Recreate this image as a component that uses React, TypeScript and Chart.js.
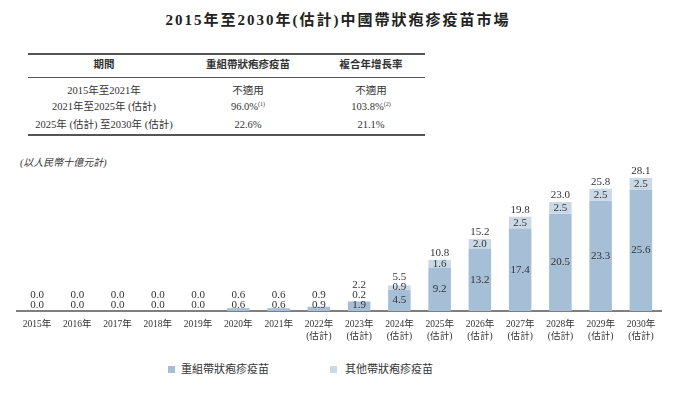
import React, { useEffect, useRef } from "react";
import { Chart, registerables } from "chart.js";

Chart.register(...registerables);

const years = ["2015年","2016年","2017年","2018年","2019年","2020年","2021年","2022年","2023年","2024年","2025年","2026年","2027年","2028年","2029年","2030年"];
const estimated = [false,false,false,false,false,false,false,true,true,true,true,true,true,true,true,true];
const recombinant = [0,0,0,0,0,0.6,0.6,0.9,1.9,4.5,9.2,13.2,17.4,20.5,23.3,25.6];
const others = [0,0,0,0,0,0,0,0,0.2,0.9,1.6,2.0,2.5,2.5,2.5,2.5];
const totals = [0,0,0,0,0,0.6,0.6,0.9,2.2,5.5,10.8,15.2,19.8,23.0,25.8,28.1];

const title = "2015年至2030年(估計)中國帶狀疱疹疫苗市場";
const tableHeader = ["期間", "重組帶狀疱疹疫苗", "複合年增長率"];
const tablePeriods = ["2015年至2021年", "2021年至2025年 (估計)", "2025年 (估計) 至2030年 (估計)"];
const tableRecomb = ["不適用", "96.0%", "22.6%"];
const tableRecombNote = ["", "(1)", ""];
const tableCagr = ["不適用", "103.8%", "21.1%"];
const tableCagrNote = ["", "(2)", ""];
const unitLabel = "(以人民幣十億元計)";
const legendNames = ["重組帶狀疱疹疫苗", "其他帶狀疱疹疫苗"];

const MAIN = "#a6bfd6";
const OTHER = "#cbd9e7";
const SERIF = '"Liberation Serif", "Noto Sans CJK TC", serif';

const labelPlugin = {
  id: "stackLabels",
  afterDatasetsDraw(chart: any) {
    const ctx = chart.ctx;
    const m0 = chart.getDatasetMeta(0);
    const m1 = chart.getDatasetMeta(1);
    const axisY = chart.chartArea.bottom;
    ctx.save();
    ctx.font = `11px ${SERIF}`;
    ctx.fillStyle = "#333";
    ctx.textAlign = "center";
    ctx.textBaseline = "middle";
    for (let i = 0; i < years.length; i++) {
      const x = m0.data[i].x;
      const yMainTop = m0.data[i].y;
      const yTop = m1.data[i].y;
      const ym = Math.min((yMainTop + axisY) / 2, axisY - 6);
      ctx.fillText(recombinant[i].toFixed(1), x, ym);
      let yt;
      if (others[i] > 0) {
        const yo = Math.min((yTop + yMainTop) / 2, ym - 9.5);
        ctx.fillText(others[i].toFixed(1), x, yo);
        yt = Math.min(yTop - 6.5, yo - 10);
      } else {
        yt = Math.min(yTop - 6.5, ym - 9.5);
      }
      ctx.fillText(totals[i].toFixed(1), x, yt);
    }
    ctx.restore();
  },
};

function ChartCanvas() {
  const ref = useRef<HTMLCanvasElement>(null);
  useEffect(() => {
    if (!ref.current) return;
    const chart = new Chart(ref.current, {
      type: "bar",
      data: {
        labels: years.map((y, i) => (estimated[i] ? [y, "(估計)"] : y)),
        datasets: [
          { label: legendNames[0], data: recombinant, backgroundColor: MAIN, barPercentage: 0.56, categoryPercentage: 1 },
          { label: legendNames[1], data: others, backgroundColor: OTHER, barPercentage: 0.56, categoryPercentage: 1 },
        ],
      },
      options: {
        responsive: false,
        animation: false,
        layout: { padding: { left: 17, right: 15, top: 0, bottom: 0 } },
        plugins: { legend: { display: false }, tooltip: { enabled: false } },
        scales: {
          x: {
            stacked: true,
            grid: { display: false, drawTicks: false },
            border: { display: true, color: "#7f7f7f", width: 2 },
            ticks: { color: "#333", font: { family: SERIF, size: 9.5 }, padding: 8, maxRotation: 0, autoSkip: false },
            afterFit: (s: any) => { s.height = 39; },
          },
          y: { stacked: true, display: false, min: 0, max: 36.1 },
        },
      },
      plugins: [labelPlugin],
    });
    return () => chart.destroy();
  }, []);
  return <canvas ref={ref} width={676} height={210} style={{ position: "absolute", left: 0, top: 140, width: 676, height: 210 }} />;
}

const abs = (left: number, top: number, extra: any = {}) => ({ position: "absolute" as const, left, top, ...extra });

export default function App() {
  const colX = [104, 248, 371];
  const rowY = [91, 107, 125];
  const note = (t: string) => (t ? <span style={{ fontSize: 6, position: "relative", top: -4, lineHeight: 0 }}>{t}</span> : null);
  const cell = (key: string, x: number, y: number, content: any, extra: any = {}) => (
    <div key={key} style={abs(x - 150, y - 8, { width: 300, height: 16, textAlign: "center", lineHeight: "16px", fontSize: 10.5, whiteSpace: "nowrap", ...extra })}>{content}</div>
  );
  return (
    <div style={{ position: "fixed", left: 0, top: 0, width: 676, height: 398, background: "#fff", fontFamily: SERIF, color: "#333", overflow: "hidden" }}>
      <div style={abs(0, 10, { width: 676, textAlign: "center", fontSize: 15, fontWeight: "bold", letterSpacing: 2, lineHeight: "20px", color: "#222" })}>{title}</div>
      <div style={abs(28, 53, { width: 397, height: 2, background: "#555" })} />
      <div style={abs(28, 77, { width: 397, height: 1, background: "#555" })} />
      <div style={abs(28, 134, { width: 397, height: 2, background: "#555" })} />
      {tableHeader.map((h, i) => cell("h" + i, colX[i], 65, h, { fontWeight: "bold" }))}
      {tablePeriods.map((p, r) => (
        <React.Fragment key={"r" + r}>
          {cell("a" + r, colX[0], rowY[r], p)}
          {cell("b" + r, colX[1], rowY[r], <span>{tableRecomb[r]}{note(tableRecombNote[r])}</span>)}
          {cell("c" + r, colX[2], rowY[r], <span>{tableCagr[r]}{note(tableCagrNote[r])}</span>)}
        </React.Fragment>
      ))}
      <div style={abs(20, 155, { fontSize: 10, fontStyle: "italic", lineHeight: "16px" })}>{unitLabel}</div>
      <ChartCanvas />
      <div style={abs(168, 366, { width: 7, height: 7, background: MAIN })} />
      <div style={abs(181, 362, { fontSize: 11, lineHeight: "15px" })}>{legendNames[0]}</div>
      <div style={abs(330, 366, { width: 7, height: 7, background: OTHER })} />
      <div style={abs(345, 362, { fontSize: 11, lineHeight: "15px" })}>{legendNames[1]}</div>
    </div>
  );
}
